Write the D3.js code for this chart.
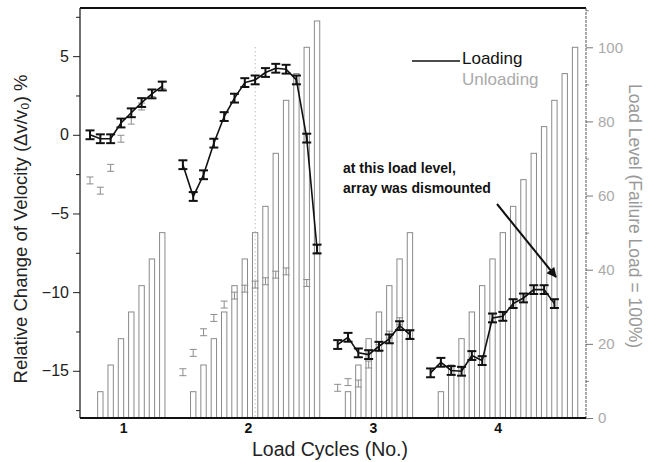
<!DOCTYPE html>
<html><head><meta charset="utf-8">
<script src="https://cdn.jsdelivr.net/npm/d3@7/dist/d3.min.js"></script>
<style>
html,body{margin:0;padding:0;background:#fff;}
svg text{font-family:"Liberation Sans",Arial,Helvetica,sans-serif;}
</style></head>
<body><svg id="c" width="652" height="462"></svg>
<script>
// ---------- data ----------
// x positions are measurement-step indices along the test (gaps between cycles)
const cycleLabels = ["1", "2", "3", "4"];
const cycleTickPos = [3.2, 15.3, 27.4, 39.5];

// load level bars (% of failure load)
const barSteps1 = [1, 2, 3, 4, 5, 6, 7];
const barLoad1  = [7.1, 14.3, 21.4, 28.6, 35.7, 42.9, 50.0];
const barSteps2 = [10, 11, 12, 13, 14, 15, 16, 17, 18, 19, 20, 21, 22];
const barLoad2  = [7.1, 14.3, 21.4, 28.6, 35.7, 42.9, 50.0, 57.1, 71.4, 85.7, 92.9, 100.0, 107.1];
const barSteps3 = [25, 26, 27, 28, 29, 30, 31];
const barLoad3  = [7.1, 14.3, 21.4, 28.6, 35.7, 42.9, 50.0];
const barSteps4 = [34, 35, 36, 37, 38, 39, 40, 41, 42, 43, 44, 45, 46, 47];
const barLoad4  = [7.1, 14.3, 21.4, 28.6, 35.7, 42.9, 50.0, 57.1, 64.3, 71.4, 78.6, 85.7, 92.9, 100.0];

// relative change of velocity (%) – loading
const loadSteps1 = [0, 1, 2, 3, 4, 5, 6, 7];
const loadVals1  = [0.0, -0.25, -0.25, 0.75, 1.4, 2.05, 2.6, 3.1];
const loadSteps2 = [9, 10, 11, 12, 13, 14, 15, 16, 17, 18, 19, 20, 21, 22];
const loadVals2  = [-1.9, -3.92, -2.54, -0.53, 1.16, 2.33, 3.32, 3.49, 3.96, 4.23, 4.17, 3.49, -0.21, -7.26];
const loadSteps3 = [24, 25, 26, 27, 28, 29, 30, 31];
const loadVals3  = [-13.33, -12.87, -13.86, -13.97, -13.44, -12.97, -12.13, -12.7];
const loadSteps4 = [33, 34, 35, 36, 37, 38, 39, 40, 41, 42, 43, 44, 45];
const loadVals4  = [-15.13, -14.46, -14.98, -15.03, -14.03, -14.35, -11.64, -11.54, -10.73, -10.37, -9.84, -9.84, -10.73];

// unloading
const unloadSteps1 = [0, 1, 2, 3, 4, 5, 6, 7];
const unloadVals1  = [-2.9, -3.55, -2.1, -0.25, 0.9, 1.8, 2.65, 3.15];
const unloadSteps2 = [9, 10, 11, 12, 13, 14, 15, 16, 17, 18, 19, 21, 22];
const unloadVals2  = [-15.09, -13.86, -12.55, -11.64, -10.79, -10.22, -9.78, -9.52, -9.31, -8.89, -8.68, -9.42, -7.26];
const unloadSteps3 = [24, 25, 26, 27, 28, 29, 30, 31];
const unloadVals3  = [-16.08, -15.72, -15.81, -14.6, -13.56, -12.7, -11.85, -12.7];

const loadErr = 0.28, unloadErr = 0.22;
const leftTicks = [-15, -10, -5, 0, 5];
const leftMinor = [-17.5, -12.5, -7.5, -2.5, 2.5, 7.5];
const rightTicks = [0, 20, 40, 60, 80, 100];
const rightMinor = [10, 30, 50, 70, 90, 110];
const markerStep = 16, markerTop = 100;   // dotted reference line in cycle 2

// ---------- layout ----------
const svg = d3.select("#c");
const L = 80, R = 586, T = 8, B = 418;
const x = d3.scaleLinear().domain([-0.97, 48.06]).range([L, R]);
const yL = d3.scaleLinear().domain([-18, 8.06]).range([B, T]);
const yR = d3.scaleLinear().domain([0, 110.6]).range([B, T]);
const stepPx = x(1) - x(0);
const barW = stepPx * 0.52;

const zip = (a, b) => a.map((s, i) => ({s, v: b[i]}));
const bars = [].concat(zip(barSteps1, barLoad1), zip(barSteps2, barLoad2), zip(barSteps3, barLoad3), zip(barSteps4, barLoad4));
const loadSeries = [zip(loadSteps1, loadVals1), zip(loadSteps2, loadVals2), zip(loadSteps3, loadVals3), zip(loadSteps4, loadVals4)];
const unloadPts = [].concat(zip(unloadSteps1, unloadVals1), zip(unloadSteps2, unloadVals2), zip(unloadSteps3, unloadVals3));

// bars
svg.append("g").selectAll("rect").data(bars).join("rect")
  .attr("x", d => x(d.s) - barW / 2).attr("y", d => yR(d.v))
  .attr("width", barW).attr("height", d => yR(0) - yR(d.v))
  .attr("fill", "none").attr("stroke", "#8a8a8a").attr("stroke-width", 1);

// dotted reference line
svg.append("line").attr("x1", x(markerStep)).attr("x2", x(markerStep))
  .attr("y1", yR(markerTop)).attr("y2", yR(0))
  .attr("stroke", "#999").attr("stroke-width", 1).attr("stroke-dasharray", "1,3");

// error bar helper
function errBars(g, pts, err, cap, color, sw) {
  const e = g.selectAll("g.eb").data(pts).join("g").attr("class", "eb");
  e.append("line").attr("x1", d => x(d.s)).attr("x2", d => x(d.s))
    .attr("y1", d => yL(d.v - err)).attr("y2", d => yL(d.v + err))
    .attr("stroke", color).attr("stroke-width", sw);
  [-err, err].forEach(o => {
    e.append("line").attr("x1", d => x(d.s) - cap / 2).attr("x2", d => x(d.s) + cap / 2)
      .attr("y1", d => yL(d.v + o)).attr("y2", d => yL(d.v + o))
      .attr("stroke", color).attr("stroke-width", sw);
  });
}

// unloading markers (grey)
errBars(svg.append("g"), unloadPts, unloadErr, 7, "#8c8c8c", 1);

// loading lines
const line = d3.line().x(d => x(d.s)).y(d => yL(d.v));
svg.append("g").selectAll("path").data(loadSeries).join("path")
  .attr("d", line).attr("fill", "none").attr("stroke", "#111").attr("stroke-width", 1.6);
errBars(svg.append("g"), [].concat(...loadSeries), loadErr, 9, "#111", 2);

// ---------- axes ----------
const axL = svg.append("g").attr("transform", `translate(${L},0)`)
  .call(d3.axisLeft(yL).tickValues(leftTicks).tickSize(7).tickPadding(4).tickFormat(d3.format("d")));
axL.select(".domain").remove();
axL.selectAll("text").attr("font-size", 16).attr("fill", "#222");
axL.selectAll("line").attr("stroke", "#222");
svg.append("g").attr("transform", `translate(${L},0)`)
  .call(d3.axisLeft(yL).tickValues(leftMinor).tickSize(4).tickFormat(""))
  .call(g => g.select(".domain").remove()).selectAll("line").attr("stroke", "#222");

const axR = svg.append("g").attr("transform", `translate(${R},0)`)
  .call(d3.axisRight(yR).tickValues(rightTicks).tickSize(7).tickPadding(5).tickFormat(d3.format("d")));
axR.select(".domain").remove();
axR.selectAll("text").attr("font-size", 15).attr("fill", "#aaa");
axR.selectAll("line").attr("stroke", "#777");
svg.append("g").attr("transform", `translate(${R},0)`)
  .call(d3.axisRight(yR).tickValues(rightMinor).tickSize(3).tickFormat(""))
  .call(g => g.select(".domain").remove()).selectAll("line").attr("stroke", "#888");

const axB = svg.append("g").attr("transform", `translate(0,${B})`)
  .call(d3.axisBottom(x).tickValues(cycleTickPos).tickSize(0).tickPadding(5)
    .tickFormat((d, i) => cycleLabels[i]));
axB.select(".domain").remove();
axB.selectAll("text").attr("font-size", 14).attr("font-weight", "bold").attr("fill", "#111");

// frame
svg.append("line").attr("x1", L).attr("x2", R).attr("y1", T).attr("y2", T).attr("stroke", "#111").attr("stroke-width", 2);
svg.append("line").attr("x1", L).attr("x2", L).attr("y1", T).attr("y2", B).attr("stroke", "#222").attr("stroke-width", 1.3);
svg.append("line").attr("x1", R).attr("x2", R).attr("y1", T).attr("y2", B).attr("stroke", "#555").attr("stroke-width", 1).attr("stroke-dasharray", "3,1");
svg.append("line").attr("x1", L).attr("x2", R).attr("y1", B).attr("y2", B).attr("stroke", "#111").attr("stroke-width", 2);

// titles
svg.append("text").attr("transform", "translate(27,229) rotate(-90)").attr("text-anchor", "middle")
  .attr("font-size", 18.5).attr("fill", "#222").text("Relative Change of Velocity (Δv/v₀) %");
svg.append("text").attr("transform", "translate(629,216) rotate(90)").attr("text-anchor", "middle")
  .attr("font-size", 17.5).attr("fill", "#999").text("Load Level (Failure Load = 100%)");
svg.append("text").attr("x", 330).attr("y", 456).attr("text-anchor", "middle")
  .attr("font-size", 19.5).attr("fill", "#222").text("Load Cycles (No.)");

// legend
svg.append("line").attr("x1", 412).attr("x2", 460).attr("y1", 61).attr("y2", 61).attr("stroke", "#111").attr("stroke-width", 1.6);
svg.append("text").attr("x", 462).attr("y", 64).attr("font-size", 17).attr("fill", "#111").text("Loading");
svg.append("text").attr("x", 462).attr("y", 85).attr("font-size", 17).attr("fill", "#aaa").text("Unloading");

// annotation
svg.append("text").attr("x", 343).attr("y", 173).attr("font-size", 14).attr("font-weight", "bold").attr("fill", "#111").text("at this load level,");
svg.append("text").attr("x", 343).attr("y", 193).attr("font-size", 14).attr("font-weight", "bold").attr("fill", "#111").text("array was dismounted");
svg.append("defs").append("marker").attr("id", "ah").attr("viewBox", "0 0 10 10").attr("refX", 9).attr("refY", 5)
  .attr("markerWidth", 5).attr("markerHeight", 5).attr("orient", "auto")
  .append("path").attr("d", "M0,0L10,5L0,10z").attr("fill", "#111");
svg.append("line").attr("x1", 497).attr("y1", 204).attr("x2", 556).attr("y2", 277)
  .attr("stroke", "#111").attr("stroke-width", 2).attr("marker-end", "url(#ah)");
</script></body></html>
